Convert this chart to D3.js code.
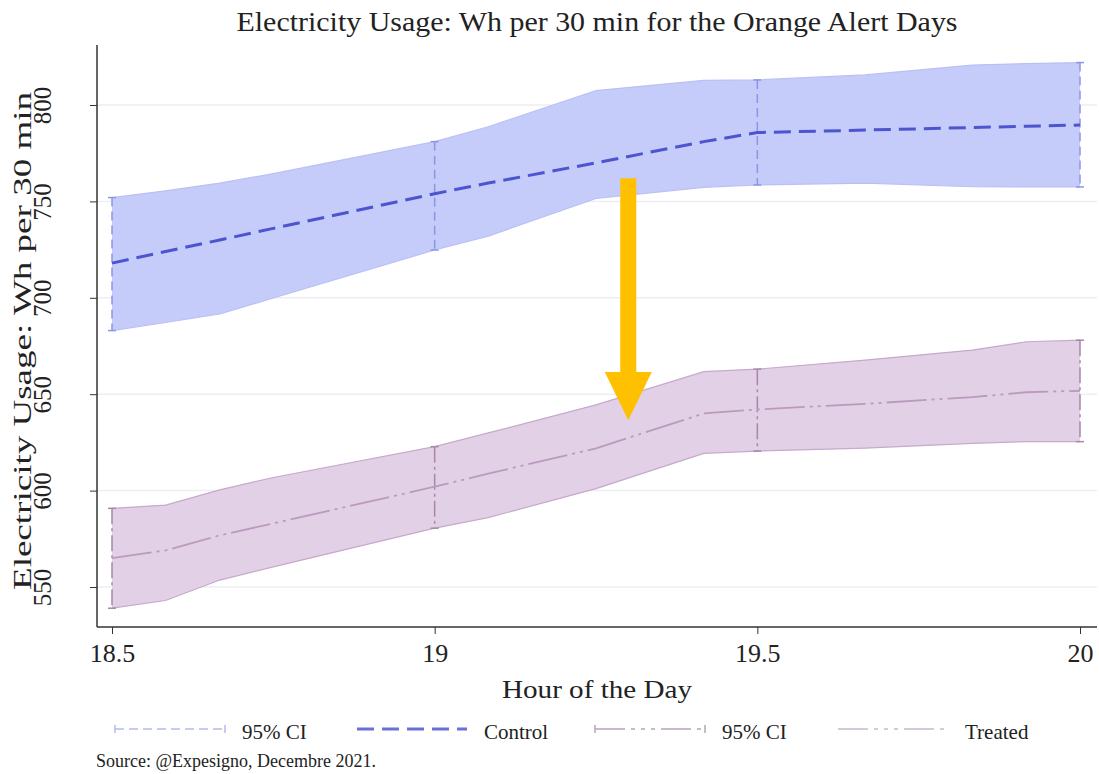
<!DOCTYPE html>
<html>
<head>
<meta charset="utf-8">
<script src="https://cdn.jsdelivr.net/npm/d3@7"></script>
<style>
	body { margin: 0; background: #fff; }
	svg { display: block; font-family: 'Liberation Serif', 'Times New Roman', serif; }
</style>
</head>
<body>
<svg id="chart" width="1099" height="774"></svg>
<script>
'use strict';

// hours of the day (x) where the estimates are plotted
const hours = [18.5, 18.583, 18.667, 18.75, 19, 19.083, 19.25, 19.417, 19.5, 19.667, 19.833, 19.917, 20];

const controlMean  = [718, 724, 730, 736, 754, 759.5, 770, 781, 785.7, 787, 788.3, 789, 789.6];
const controlUpper = [752, 755.5, 759.5, 764.4, 781, 788.7, 807.5, 812.8, 813, 815.6, 820.7, 821.5, 822];
const controlLower = [683, 687.2, 691.6, 699.9, 724.8, 732, 751.5, 757.3, 758.5, 759.5, 757.6, 757.5, 757.5];

const treatedMean  = [565, 569, 576.8, 583, 602, 608.8, 621.9, 640, 642.1, 645, 648.5, 651, 651.8];
const treatedUpper = [590.8, 592.5, 600.4, 606.8, 622.8, 629.9, 644.5, 661.7, 663, 667.7, 672.9, 677.2, 678];
const treatedLower = [539, 543, 553.6, 560.4, 580.5, 586, 601, 619.3, 620.5, 622, 624.5, 625.4, 625.4];

// capped spikes are drawn only on the half hours
const spikeHours = [18.5, 19, 19.5, 20];

const xTicks = [18.5, 19, 19.5, 20];
const yTicks = [550, 600, 650, 700, 750, 800];

// annotation arrow, in data units
const arrowHour = 19.3;
const arrowFrom = 762;
const arrowHead = 661.5;
const arrowTo = 636.5;

const legendItems = [
	{ label: '95% CI', kind: 'controlCI' },
	{ label: 'Control', kind: 'control' },
	{ label: '95% CI', kind: 'treatedCI' },
	{ label: 'Treated', kind: 'treated' }
];

const svg = d3.select('#chart');
const plot = { left: 97, right: 1097, top: 45, bottom: 627 };

const x = d3.scaleLinear().domain([18.5, 20]).range([112, 1080]);
const y = d3.scaleLinear().domain([550, 800]).range([587, 105]);

const colors = {
	controlBand: '#c5ccf9',
	controlEdge: '#b9c1f4',
	controlLine: '#4c54cf',
	controlCI: '#8c95e6',
	treatedBand: '#e2d0e7',
	treatedEdge: '#c6a9cb',
	treatedLine: '#b99bbd',
	treatedCI: '#a887ab'
};

const rows = hours.map((h, i) => ({
	h,
	cm: controlMean[i], cu: controlUpper[i], cl: controlLower[i],
	tm: treatedMean[i], tu: treatedUpper[i], tl: treatedLower[i]
}));

/* grid lines */
svg.append('g').selectAll('line')
	.data(yTicks)
	.join('line')
		.attr('x1', plot.left)
		.attr('x2', plot.right)
		.attr('y1', d => y(d))
		.attr('y2', d => y(d))
		.attr('stroke', '#eceef2')
		.attr('stroke-width', 1.5);

/* confidence bands */
function band(upper, lower, fill, edge){
	const area = d3.area()
		.x(d => x(d.h))
		.y0(d => y(d[lower]))
		.y1(d => y(d[upper]));
	svg.append('path')
		.datum(rows)
		.attr('d', area)
		.attr('fill', fill);
	[upper, lower].forEach(k => {
		svg.append('path')
			.datum(rows)
			.attr('d', d3.line().x(d => x(d.h)).y(d => y(d[k])))
			.attr('fill', 'none')
			.attr('stroke', edge)
			.attr('stroke-width', 1.2);
	});
}
band('cu', 'cl', colors.controlBand, colors.controlEdge);
band('tu', 'tl', colors.treatedBand, colors.treatedEdge);

/* capped spikes for the CIs */
function spikes(upper, lower, color, dash){
	const data = rows.filter(r => spikeHours.some(s => Math.abs(s - r.h) < 0.01));
	const g = svg.append('g');
	g.selectAll('line.spike')
		.data(data)
		.join('line')
			.attr('class', 'spike')
			.attr('x1', d => x(d.h))
			.attr('x2', d => x(d.h))
			.attr('y1', d => y(d[upper]))
			.attr('y2', d => y(d[lower]))
			.attr('stroke', color)
			.attr('stroke-width', 1.5)
			.attr('stroke-dasharray', dash);
	[upper, lower].forEach(k => {
		g.selectAll('line.cap' + k)
			.data(data)
			.join('line')
				.attr('class', 'cap' + k)
				.attr('x1', d => x(d.h) - 4)
				.attr('x2', d => x(d.h) + 4)
				.attr('y1', d => y(d[k]))
				.attr('y2', d => y(d[k]))
				.attr('stroke', color)
				.attr('stroke-width', 1.5);
	});
}
spikes('cu', 'cl', colors.controlCI, '9 5');
spikes('tu', 'tl', colors.treatedCI, '16 4 3 4');

/* mean lines */
svg.append('path')
	.datum(rows)
	.attr('d', d3.line().x(d => x(d.h)).y(d => y(d.cm)))
	.attr('fill', 'none')
	.attr('stroke', colors.controlLine)
	.attr('stroke-width', 3)
	.attr('stroke-dasharray', '17 8');

svg.append('path')
	.datum(rows)
	.attr('d', d3.line().x(d => x(d.h)).y(d => y(d.tm)))
	.attr('fill', 'none')
	.attr('stroke', colors.treatedLine)
	.attr('stroke-width', 1.8)
	.attr('stroke-dasharray', '40 5 3 5 3 5');

/* arrow */
const ax = x(arrowHour);
svg.append('rect')
	.attr('x', ax - 8)
	.attr('y', y(arrowFrom))
	.attr('width', 16)
	.attr('height', y(arrowHead) - y(arrowFrom))
	.attr('fill', '#ffc000');
svg.append('path')
	.attr('d', d3.line()([[ax - 23.5, y(arrowHead)], [ax + 23.5, y(arrowHead)], [ax, y(arrowTo)]]) + 'Z')
	.attr('fill', '#ffc000');

/* axes */
const xAxis = svg.append('g')
	.attr('transform', `translate(0,${plot.bottom})`)
	.call(d3.axisBottom(x).tickValues(xTicks).tickFormat(d3.format('')).tickSize(7).tickPadding(10));
xAxis.select('.domain').remove();
xAxis.selectAll('text')
	.attr('font-size', 26)
	.attr('fill', '#222')
	.attr('font-family', 'Liberation Serif');
xAxis.selectAll('line').attr('stroke', '#333');

const yAxis = svg.append('g')
	.attr('transform', `translate(${plot.left},0)`)
	.call(d3.axisLeft(y).tickValues(yTicks).tickSize(7));
yAxis.select('.domain').remove();
yAxis.selectAll('line').attr('stroke', '#333');
yAxis.selectAll('text')
	.attr('x', null)
	.attr('dy', null)
	.attr('font-size', 25)
	.attr('fill', '#222')
	.attr('font-family', 'Liberation Serif')
	.attr('text-anchor', 'middle')
	.attr('transform', 'translate(-46,0) rotate(-90)');

svg.append('line')
	.attr('x1', plot.left).attr('x2', plot.right)
	.attr('y1', plot.bottom).attr('y2', plot.bottom)
	.attr('stroke', '#333').attr('stroke-width', 1.5);
svg.append('line')
	.attr('x1', plot.left).attr('x2', plot.left)
	.attr('y1', plot.top).attr('y2', plot.bottom)
	.attr('stroke', '#333').attr('stroke-width', 1.5);

/* titles */
svg.append('text')
	.attr('x', 597).attr('y', 31)
	.attr('text-anchor', 'middle')
	.attr('font-size', 27)
	.attr('fill', '#222')
	.attr('textLength', 721)
	.attr('lengthAdjust', 'spacingAndGlyphs')
	.text('Electricity Usage: Wh per 30 min for the Orange Alert Days');

svg.append('text')
	.attr('x', 597).attr('y', 698)
	.attr('text-anchor', 'middle')
	.attr('font-size', 26)
	.attr('fill', '#222')
	.attr('textLength', 190)
	.attr('lengthAdjust', 'spacingAndGlyphs')
	.text('Hour of the Day');

svg.append('text')
	.attr('transform', 'translate(31,341) rotate(-90)')
	.attr('text-anchor', 'middle')
	.attr('font-size', 25)
	.attr('fill', '#222')
	.attr('textLength', 498)
	.attr('lengthAdjust', 'spacingAndGlyphs')
	.text('Electricity Usage: Wh per 30 min');

/* legend */
const legendX = [115, 357, 595, 838];
const legendY = 729;
const legend = svg.append('g');
legendItems.forEach((item, i) => {
	const g = legend.append('g').attr('transform', `translate(${legendX[i]},${legendY})`);
	const style = {
		controlCI: { c: '#b3baf0', w: 1.5, dash: '9 5', cap: true },
		control: { c: '#6a71d6', w: 3, dash: '17 8', cap: false },
		treatedCI: { c: '#b8a4ba', w: 1.5, dash: '30 6 4 6 4 6 4 6', cap: true },
		treated: { c: '#d5cad7', w: 2, dash: '30 6 4 6 4 6 4 6', cap: false }
	}[item.kind];
	g.append('line')
		.attr('x1', 0).attr('x2', 110)
		.attr('y1', 0).attr('y2', 0)
		.attr('stroke', style.c)
		.attr('stroke-width', style.w)
		.attr('stroke-dasharray', style.dash);
	if(style.cap){
		[0, 110].forEach(cx => {
			g.append('line')
				.attr('x1', cx).attr('x2', cx)
				.attr('y1', -4).attr('y2', 4)
				.attr('stroke', style.c)
				.attr('stroke-width', 1.5);
		});
	}
	g.append('text')
		.attr('x', 127)
		.attr('y', 10)
		.attr('font-size', 21)
		.attr('fill', '#222')
		.text(item.label);
});

svg.append('text')
	.attr('x', 96).attr('y', 767)
	.attr('font-size', 18)
	.attr('fill', '#222')
	.text('Source: @Expesigno, Decembre 2021.');
</script>
</body>
</html>
